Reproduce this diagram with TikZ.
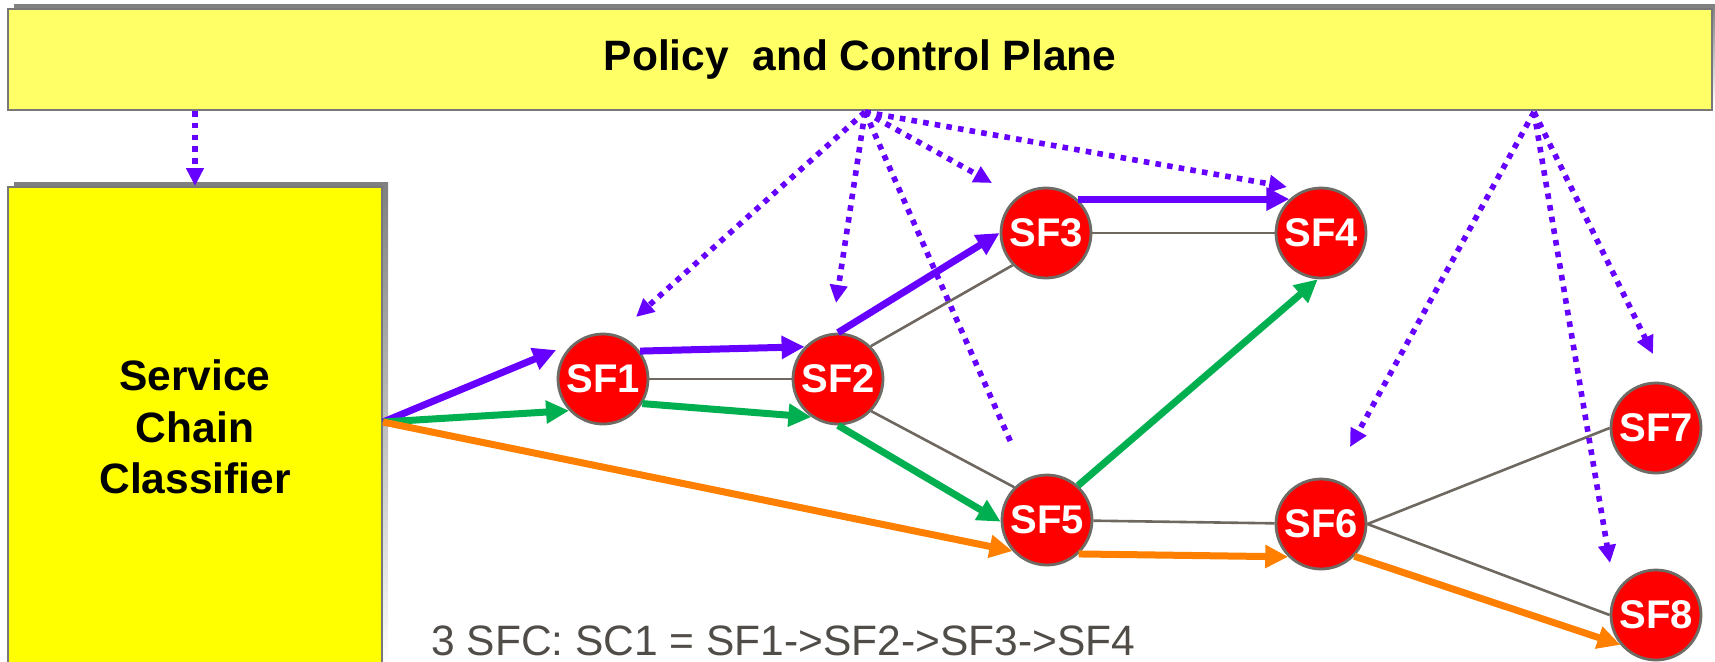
\documentclass[tikz,border=0pt]{standalone}
\usepackage{fontspec}
\setmainfont{Liberation Sans}
\usetikzlibrary{arrows.meta}

\definecolor{barfill}{RGB}{255,255,102}
\definecolor{clsfill}{RGB}{255,255,0}
\definecolor{shade}{RGB}{150,150,150}
\definecolor{edge}{RGB}{120,120,120}
\definecolor{vio}{RGB}{102,0,255}
\definecolor{grn}{RGB}{0,176,80}
\definecolor{org}{RGB}{255,128,0}
\definecolor{sfred}{RGB}{255,0,0}
\definecolor{ring}{RGB}{110,106,100}
\definecolor{linkgray}{RGB}{110,104,96}
\definecolor{note}{RGB}{80,76,72}

\begin{document}
\begin{tikzpicture}[x=0.5pt,y=-0.5pt,
  panel/.style={draw=edge, line width=1pt, inner sep=0pt, align=center,
    font=\bfseries\fontsize{21.25pt}{25.75pt}\selectfont},
  sfnode/.style={circle, fill=sfred, draw=ring, line width=1.4pt,
    minimum size=45pt, inner sep=0pt, text=white,
    font=\bfseries\fontsize{20pt}{20pt}\selectfont},
  linkline/.style={draw=linkgray, line width=1.3pt},
  flow/.style={line width=3.5pt, -{Triangle[length=11.5pt,width=11pt]}},
  ctrl/.style={color=vio, line width=2.8pt, dash pattern=on 2.8pt off 3.1pt,
    -{Triangle[length=9pt,width=8.5pt]}},
  ctrlline/.style={color=vio, line width=2.8pt, dash pattern=on 2.8pt off 3.1pt}
]
\useasboundingbox (0,0) rectangle (1715,661);
\clip (0,0) rectangle (1715,661);

% drop shadows of the two panels
\fill[shade] (14,4) rectangle (1720,105);
\fill[shade] (14,182) rectangle (388,670);

% panels
\node[panel, fill=barfill, minimum width=852pt, minimum height=50.5pt]
  (Bar) at (860,59.5) {Policy\ \ and Control Plane};
\node[panel, fill=clsfill, minimum width=187pt, minimum height=240pt]
  (Cls) at (195,427) {Service\\Chain\\Classifier};

% service functions
\node[sfnode] (SF1) at (603,379) {SF1};
\node[sfnode] (SF2) at (838,379) {SF2};
\node[sfnode] (SF3) at (1046,233) {SF3};
\node[sfnode] (SF4) at (1321,233) {SF4};
\node[sfnode] (SF5) at (1047,520) {SF5};
\node[sfnode] (SF6) at (1321,524) {SF6};
\node[sfnode] (SF7) at (1656,428) {SF7};
\node[sfnode] (SF8) at (1656,615) {SF8};

% topology links
\draw[linkline] (SF1) -- (SF2);
\draw[linkline] (SF3) -- (SF4);
\draw[linkline] (SF2.45) -- (SF3.224);
\draw[linkline] (SF2.316) -- (SF5.135);
\draw[linkline] (SF5) -- (SF6);
\draw[linkline] (SF6.0) -- (SF7.180);
\draw[linkline] (SF6.0) -- (SF8.180);

% chain SC1 (violet)
\draw[flow, vio, shorten >=9.9pt] ([yshift=2.5pt]Cls.east) -- (SF1.128);
\draw[flow, vio] (SF1.37) -- (SF2.136);
\draw[flow, vio] (SF2.90) -- (SF3.180);
\draw[flow, vio] (SF3.47) -- (SF4.133);

% chain SC2 (green)
\draw[flow, grn] ([yshift=2.5pt]Cls.east) -- (SF1.223);
\draw[flow, grn] (SF1.328) -- (SF2.235);
\draw[flow, grn] (SF2.270) -- (SF5.182);
\draw[flow, grn] (SF5.48) -- (SF4.266);

% chain SC3 (orange)
\draw[flow, org] ([yshift=2.5pt]Cls.east) -- (SF5.222);
\draw[flow, org] (SF5.313) -- (SF6.225);
\draw[flow, org] (SF6.316) -- (SF8.220);

% control plane signalling
\coordinate (pA) at (865,112);
\coordinate (pB) at (1534,112);
\coordinate (tA1) at (636,317);
\coordinate (tA2) at (836,303);
\coordinate (tA5) at (1012,445);
\coordinate (tA3) at (992,183);
\coordinate (tA4) at (1287,187);
\coordinate (tB6) at (1350,447);
\coordinate (tB7) at (1653,354);
\coordinate (tB8) at (1610,563);

\draw[ctrl] (Cls.north |- Bar.south) -- (Cls.north);
\draw[ctrl] (pA) -- (tA1);
\draw[ctrl] (pA) -- (tA2);
\draw[ctrlline] (pA) -- (tA5);
\draw[ctrl] (pA) -- (tA3);
\draw[ctrl] (pA) -- (tA4);
\draw[ctrl] (pB) -- (tB6);
\draw[ctrl] (pB) -- (tB7);
\draw[ctrl] (pB) -- (tB8);

% chain summary
\node[anchor=base west, inner sep=0pt, text=note,
  font=\fontsize{21.25pt}{25pt}\selectfont]
  (Note) at (431,655) {3 SFC: SC1 = SF1->SF2->SF3->SF4};
\end{tikzpicture}
\end{document}
